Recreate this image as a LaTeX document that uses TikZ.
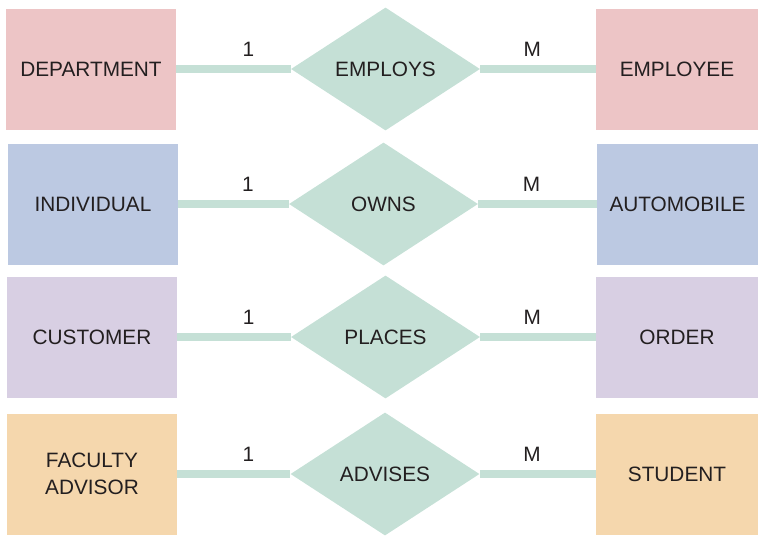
\documentclass[tikz,border=0pt]{standalone}
\usepackage{fontspec}
\setmainfont{Liberation Sans}
\usetikzlibrary{shapes.geometric}
\definecolor{textgray}{HTML}{231F20}
\definecolor{relgreen}{HTML}{C5E0D6}
\definecolor{boxpink}{HTML}{EDC5C6}
\definecolor{boxblue}{HTML}{BCC9E2}
\definecolor{boxlilac}{HTML}{D8CFE3}
\definecolor{boxorange}{HTML}{F5D7AD}

\tikzset{
  entity/.style={rectangle, inner sep=0pt, minimum width=127.5pt, minimum height=90.75pt, align=center, text=textgray},
  relation/.style={diamond, fill=relgreen, inner sep=0pt, minimum width=141.75pt, minimum height=92.25pt, text=textgray},
  link/.style={relgreen, line width=6pt},
  card/.style={inner sep=0pt, above=6.5pt, text=textgray}
}

\begin{document}
\begin{tikzpicture}[x=0.75pt, y=-0.75pt, font=\fontsize{15.6}{20}\selectfont]
  \useasboundingbox (0,0) rectangle (758,536);

  % one to many: department / employee
  \node[entity, fill=boxpink] (dept) at (91,69) {DEPARTMENT};
  \node[entity, fill=boxpink, minimum width=121.5pt] (emp) at (677,69) {EMPLOYEE};
  \node[relation] (employs) at (385.5,69) {EMPLOYS};
  \draw[link] (dept) -- (employs) node[card, pos=0.63] {1};
  \draw[link] (employs) -- (emp) node[card, pos=0.45] {M};

  % individual / automobile
  \node[entity, fill=boxblue] (indiv) at (93,204) {INDIVIDUAL};
  \node[entity, fill=boxblue, minimum width=120.75pt] (auto) at (677.5,204) {AUTOMOBILE};
  \node[relation] (owns) at (383.5,204) {OWNS};
  \draw[link] (indiv) -- (owns) node[card, pos=0.63] {1};
  \draw[link] (owns) -- (auto) node[card, pos=0.45] {M};

  % customer / order
  \node[entity, fill=boxlilac] (cust) at (92,337) {CUSTOMER};
  \node[entity, fill=boxlilac, minimum width=121.5pt] (order) at (677,337) {ORDER};
  \node[relation] (places) at (385.5,337) {PLACES};
  \draw[link] (cust) -- (places) node[card, pos=0.63] {1};
  \draw[link] (places) -- (order) node[card, pos=0.45] {M};

  % faculty advisor / student
  \node[entity, fill=boxorange] (fac) at (92,474) {FACULTY\\ADVISOR};
  \node[entity, fill=boxorange, minimum width=121.5pt] (stud) at (677,474) {STUDENT};
  \node[relation] (advises) at (385,474) {ADVISES};
  \draw[link] (fac) -- (advises) node[card, pos=0.63] {1};
  \draw[link] (advises) -- (stud) node[card, pos=0.45] {M};
\end{tikzpicture}
\end{document}
